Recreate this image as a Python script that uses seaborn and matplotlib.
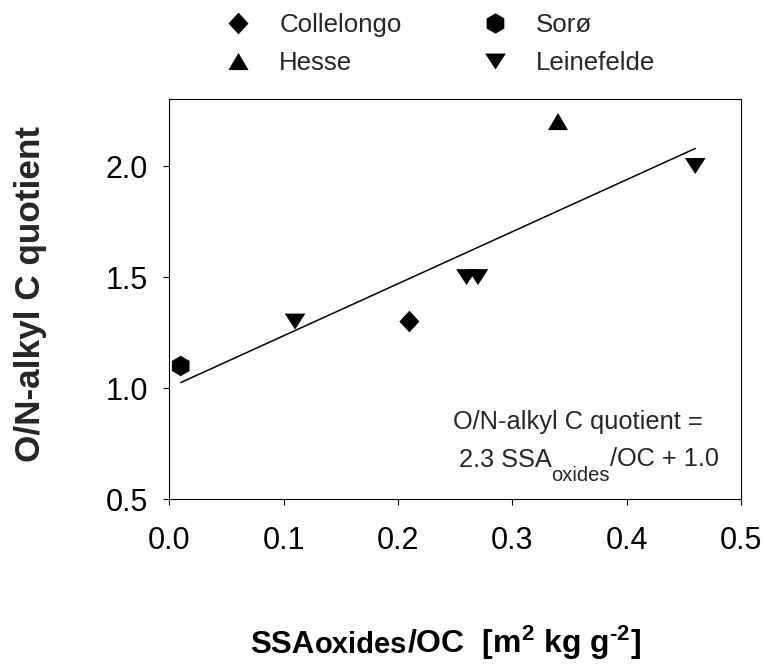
import numpy as np
import pandas as pd
import matplotlib
matplotlib.use("Agg")
import matplotlib.pyplot as plt
from matplotlib.path import Path
from matplotlib.lines import Line2D
from matplotlib.offsetbox import TextArea, HPacker, AnchoredOffsetbox
import seaborn as sns

# ---- data -------------------------------------------------------------
sites = ["Sorø", "Leinefelde", "Collelongo", "Leinefelde", "Leinefelde", "Hesse", "Leinefelde"]
ssa_oc = [0.01, 0.11, 0.21, 0.26, 0.27, 0.34, 0.46]
quotient = [1.1, 1.3, 1.3, 1.5, 1.5, 2.2, 2.0]
legend_order = ["Collelongo", "Hesse", "Sorø", "Leinefelde"]
x_ticks = [0.0, 0.1, 0.2, 0.3, 0.4, 0.5]
y_ticks = [0.5, 1.0, 1.5, 2.0]

df = pd.DataFrame({"site": sites, "ssa_oc": ssa_oc, "quotient": quotient})

# ---- style ------------------------------------------------------------
sns.set_style("ticks")
plt.rcParams["font.family"] = ["Liberation Sans", "DejaVu Sans"]
plt.rcParams["mathtext.fontset"] = "custom"
plt.rcParams["mathtext.rm"] = "Liberation Sans"
plt.rcParams["mathtext.it"] = "Liberation Sans:italic"
plt.rcParams["mathtext.bf"] = "Liberation Sans:bold"
plt.rcParams["mathtext.default"] = "regular"

# marker shapes per site
diamond = Path([(0, 1), (0.92, 0), (0, -1), (-0.92, 0), (0, 1)],
               [Path.MOVETO, Path.LINETO, Path.LINETO, Path.LINETO, Path.CLOSEPOLY])
tri_up = Path([(-1, -0.85), (1, -0.85), (0, 0.85), (-1, -0.85)],
              [Path.MOVETO, Path.LINETO, Path.LINETO, Path.CLOSEPOLY])
tri_down = Path([(-1, 0.77), (1, 0.77), (0, -0.77), (-1, 0.77)],
                [Path.MOVETO, Path.LINETO, Path.LINETO, Path.CLOSEPOLY])
markers = {"Collelongo": diamond, "Hesse": tri_up, "Sorø": "h", "Leinefelde": tri_down}
sizes = {"Collelongo": 245, "Hesse": 210, "Sorø": 215, "Leinefelde": 222}

fig = plt.figure(figsize=(7.66, 6.64), dpi=100)
ax = fig.add_axes([0.221, 0.248, 0.7463, 0.6024])

sns.regplot(data=df, x="ssa_oc", y="quotient", scatter=False, ci=None,
            truncate=True, color="black", line_kws={"lw": 1.1}, ax=ax)
sns.scatterplot(data=df, x="ssa_oc", y="quotient", style="site", size="site",
                style_order=legend_order, size_order=legend_order,
                markers=markers, sizes=sizes, color="black", linewidth=0,
                legend=False, ax=ax, zorder=3)

ax.set_xlim(0, 0.5)
ax.set_ylim(0.5, 2.3)
ax.set_xticks(x_ticks)
ax.set_yticks(y_ticks)
ax.set_xticklabels([f"{v:.1f}" for v in x_ticks])
ax.set_yticklabels([f"{v:.1f}" for v in y_ticks])
ax.tick_params(axis="both", direction="out", length=4.3, width=0.8,
               colors="black", labelsize=22)
ax.tick_params(axis="x", pad=15)
ax.tick_params(axis="y", pad=11)
for sp in ax.spines.values():
    sp.set_linewidth(0.8)
    sp.set_color("black")

ax.set_xlabel("")
ax.set_ylabel("O/N-alkyl C quotient", fontsize=25.3, fontweight="bold")
ax.yaxis.set_label_coords(-0.214, 0.513)

# regression equation, with a deeply set subscript
eq_size, sub_size = 18.3, 14.5
sub_drop = 10.8  # points below the main baseline
ax.text(0.248, 0.8167, "O/N-alkyl C quotient =", fontsize=eq_size,
        va="baseline", ha="left")
t1 = ax.text(0.2532, 0.647, "2.3 SSA", fontsize=eq_size, va="baseline", ha="left")
t2 = ax.annotate("oxides", xy=(1, 0), xycoords=t1,
                 xytext=(0, 0.209 * eq_size - sub_drop), textcoords="offset points",
                 fontsize=sub_size, va="baseline", ha="left")
ax.annotate("/OC + 1.0", xy=(1, 0), xycoords=t2,
            xytext=(0, 0.209 * sub_size + sub_drop), textcoords="offset points",
            fontsize=eq_size, va="baseline", ha="left")

# x axis title built from pieces sharing one baseline
bold = dict(fontweight="bold", color="black")
parts = [
    TextArea("SSA", textprops=dict(fontsize=22.5, **bold)),
    TextArea("oxides", textprops=dict(fontsize=21, **bold)),
    TextArea("/OC  [m$^{\\mathbf{2}}$ kg g$^{\\mathbf{\u2010}\\mathbf{2}}$]",
             textprops=dict(fontsize=23, **bold)),
]
pack = HPacker(children=parts, align="baseline", pad=0, sep=0)
xtitle = AnchoredOffsetbox(loc="lower left", child=pack, pad=0, borderpad=0,
                           frameon=False, bbox_to_anchor=(250 / 766, 1 - 662 / 664),
                           bbox_transform=fig.transFigure)
fig.add_artist(xtitle)

# legend across the top
handles = [Line2D([], [], linestyle="", marker=markers[s], color="black",
                  markeredgewidth=0, markersize=np.sqrt(sizes[s])) for s in legend_order]
fig.legend(handles, legend_order, loc="center", ncol=2, frameon=False,
           bbox_to_anchor=(440 / 766, 1 - 44 / 664), fontsize=18.6,
           handlelength=1.0, handletextpad=1.1, columnspacing=3.1,
           labelspacing=0.55, borderpad=0)

fig.savefig("out.png", dpi=100, facecolor="white")
